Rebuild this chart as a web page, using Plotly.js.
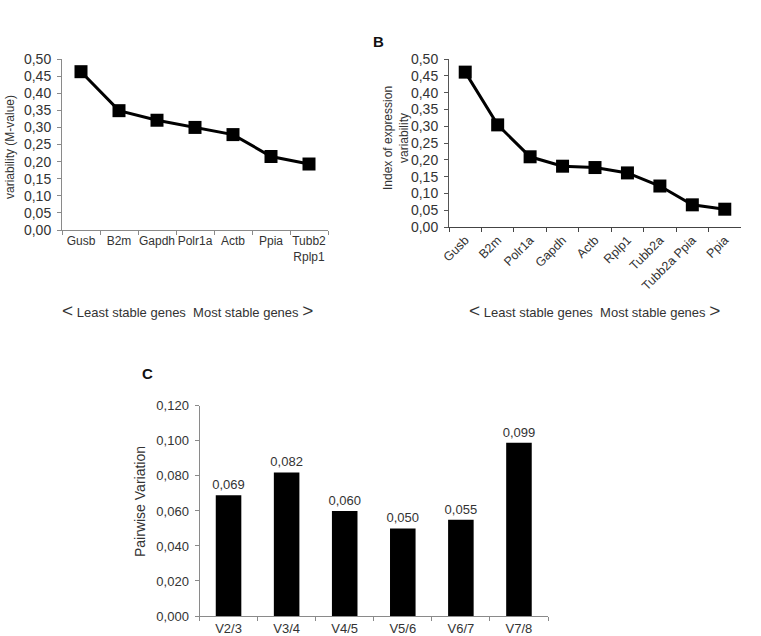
<!DOCTYPE html>
<html>
<head>
<meta charset="utf-8">
<script src="https://cdn.plot.ly/plotly-3.0.1.min.js"></script>
<style>html,body{margin:0;padding:0;background:#fff;}#chart{width:761px;height:636px;}</style>
</head>
<body>
<div id="chart"></div>
<script>
// ---- data ----
const genesA = ["Gusb", "B2m", "Gapdh", "Polr1a", "Actb", "Ppia", "Tubb2<br>Rplp1"];
const mValueA = [0.463, 0.349, 0.321, 0.300, 0.279, 0.215, 0.193];

const genesB = ["Gusb", "B2m", "Polr1a", "Gapdh", "Actb", "Rplp1", "Tubb2a", "Tubb2a Ppia", "Ppia"];
const indexB = [0.461, 0.304, 0.209, 0.181, 0.177, 0.161, 0.122, 0.066, 0.053];

const pairsC = ["V2/3", "V3/4", "V4/5", "V5/6", "V6/7", "V7/8"];
const pairwiseC = [0.069, 0.082, 0.060, 0.050, 0.055, 0.099];

const yTicksAB = [0, 0.05, 0.10, 0.15, 0.20, 0.25, 0.30, 0.35, 0.40, 0.45, 0.50];
const yTicksC = [0, 0.02, 0.04, 0.06, 0.08, 0.10, 0.12];

// ---- layout helpers ----
const W = 761, H = 636;
const px = v => v / W;
const py = v => 1 - v / H;
const FONT = "Liberation Sans, Arial, sans-serif";
const TXT = "#333";

const lineStyle = {color: "#000", width: 3};
const markerStyle = {symbol: "square", size: 13, color: "#000", line: {color: "#000", width: 0}};

const traces = [
  {type: "scatter", mode: "lines+markers", x: genesA, y: mValueA, xaxis: "x", yaxis: "y",
   line: lineStyle, marker: markerStyle, cliponaxis: false, hoverinfo: "x+y"},
  {type: "scatter", mode: "lines+markers", x: genesB, y: indexB, xaxis: "x2", yaxis: "y2",
   line: lineStyle, marker: markerStyle, cliponaxis: false, hoverinfo: "x+y"},
  {type: "bar", x: pairsC, y: pairwiseC, xaxis: "x3", yaxis: "y3",
   marker: {color: "#000"}, texttemplate: "%{y:.3f}", textposition: "outside", constraintext: "none",
   textfont: {family: FONT, size: 13, color: TXT}, cliponaxis: false, width: 0.44}
];

function yAxis(domain, range, vals, fmt, color, anchor, size) {
  return {domain: domain, range: range, tickmode: "array", tickvals: vals, tickformat: fmt,
    showline: true, linecolor: color, linewidth: 1, ticks: "outside", ticklen: 4, tickcolor: color,
    showgrid: false, zeroline: false, anchor: anchor, fixedrange: true,
    tickfont: {family: FONT, size: size, color: TXT}, ticklabelstandoff: 3};
}
function xAxis(domain, n, color, anchor, angle, size) {
  return {domain: domain, type: "category", range: [-0.5, n - 0.5], tickson: "boundaries",
    showline: true, linecolor: color, linewidth: 1, ticks: "outside", ticklen: 4, tickcolor: color,
    showgrid: false, zeroline: false, anchor: anchor, tickangle: angle, fixedrange: true,
    tickfont: {family: FONT, size: size, color: TXT}};
}

const arrowText = '<span style="font-size:19px">&lt;</span> Least stable genes &nbsp;Most stable genes <span style="font-size:19px">&gt;</span>';

function note(text, x, y, size, angle, color) {
  return {text: text, x: px(x), y: py(y), xref: "paper", yref: "paper", xanchor: "center", yanchor: "middle",
    textangle: angle || 0, showarrow: false, font: {family: FONT, size: size, color: color || TXT}};
}

const layout = {
  width: W, height: H, margin: {l: 0, r: 0, t: 0, b: 0},
  paper_bgcolor: "#fff", plot_bgcolor: "rgba(0,0,0,0)",
  showlegend: false, separators: ",.",
  font: {family: FONT, color: TXT},
  xaxis: xAxis([px(62), px(328)], genesA.length, "#8a8a8a", "y", 0, 12),
  yaxis: yAxis([py(230), py(59)], [0, 0.5001], yTicksAB, ".2f", "#8a8a8a", "x", 14),
  xaxis2: xAxis([px(449), px(741)], genesB.length, "#444", "y2", -45, 12.5),
  yaxis2: yAxis([py(227), py(59)], [0, 0.5001], yTicksAB, ".2f", "#555", "x2", 14),
  xaxis3: xAxis([px(199.5), px(548)], pairsC.length, "#8a8a8a", "y3", 0, 13),
  yaxis3: yAxis([py(616), py(405.7)], [0, 0.1201], yTicksC, ".3f", "#8a8a8a", "x3", 13),
  annotations: [
    note("variability (M-value)", 10, 147, 12, -90),
    note("Index of expression<br>variability", 396, 138, 12, -90),
    note("Pairwise Variation", 140, 502, 14, -90),
    note("<b>B</b>", 378, 41, 15, 0, "#111"),
    note("<b>C</b>", 147, 373, 15, 0, "#111"),
    note(arrowText, 187, 311, 13),
    note(arrowText, 594, 311, 13)
  ]
};

Plotly.newPlot("chart", traces, layout, {displayModeBar: false, staticPlot: true});
</script>
</body>
</html>
